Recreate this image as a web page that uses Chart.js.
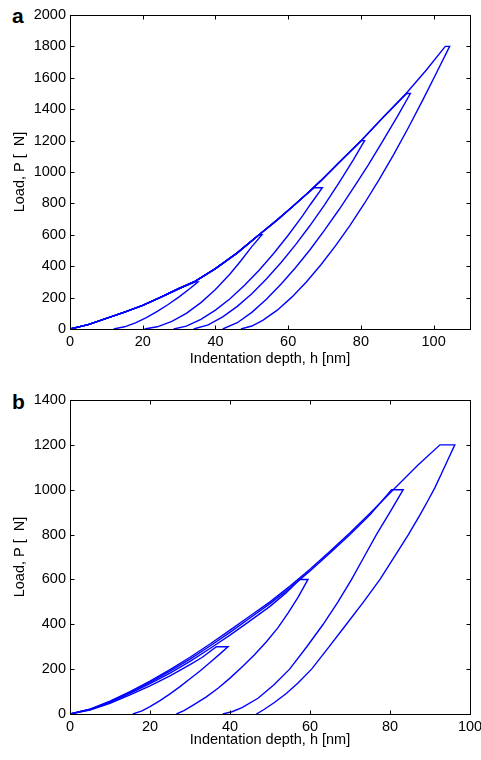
<!DOCTYPE html>
<html>
<head>
<meta charset="utf-8">
<script src="https://cdn.jsdelivr.net/npm/chart.js@4.4.1/dist/chart.umd.min.js"></script>
<style>
	body { margin: 0; background: #fff; width: 481px; height: 760px; overflow: hidden; position: relative; }
	canvas { position: absolute; left: 0; }
	.panel { position: absolute; left: 12px; font: bold 21px 'Liberation Sans', Arial, sans-serif; line-height: 21px; color: #000; }
</style>
</head>
<body>
<div class="panel" style="top:5px;">a</div>
<canvas id="chartA" width="481" height="372" style="top:0;"></canvas>
<div class="panel" style="top:391px;">b</div>
<canvas id="chartB" width="481" height="372" style="top:385px;"></canvas>
<script>
// ---- Panel a: one loading branch shared by all six tests
var aLoadH = [0, 5, 10, 15, 20, 25, 30, 34.5, 40, 46, 52, 57, 61, 65, 69, 74, 80.5, 86, 92.6, 98, 103.2];
var aLoadP = [0, 28, 68, 108, 150, 203, 258, 305, 385, 485, 600, 695, 775, 858, 945, 1060, 1210, 1345, 1505, 1650, 1800];
var aPeakH = [34.5, 52, 67.2, 80.2, 92.6, 103.2];
var aPeakP = [300, 600, 900, 1200, 1500, 1800];
// unloading branches [h, P], start at end of hold
var aUn300 = [[35.2, 300], [33, 258], [30, 205], [27, 156], [24, 112], [21, 72], [18, 39], [15, 14], [12, 0]];
var aUn600 = [[52.8, 600], [50, 525], [47, 435], [44, 350], [40, 252], [36, 168], [32, 100], [28, 48], [24, 14], [20.5, 0]];
var aUn900 = [[69.4, 900], [66, 790], [64, 722], [60, 597], [56, 481], [52, 374], [48, 278], [44, 193], [40, 120], [36, 61], [32, 18], [28.5, 0]];
var aUn1200 = [[81, 1200], [78, 1080], [74, 932], [70, 791], [66, 659], [62, 536], [58, 422], [54, 318], [50, 225], [46, 144], [42, 77], [38, 26], [34, 0]];
var aUn1500 = [[93.6, 1500], [90, 1353], [86, 1197], [82, 1044], [78, 900], [74, 761], [70, 630], [66, 505], [62, 390], [58, 285], [54, 189], [50, 106], [46, 40], [42, 0]];
var aUn1800 = [[104.4, 1800], [101, 1642], [97, 1458], [93, 1280], [89, 1111], [85, 952], [81, 801], [77, 660], [73, 529], [69, 409], [65, 299], [61, 203], [57, 120], [53, 55], [50, 19], [47, 0]];
var aUnload = [aUn300, aUn600, aUn900, aUn1200, aUn1500, aUn1800];

// ---- Panel b: four tests, each with its own loading branch [h, P]
var bLoad300 = [[0, 0], [5, 18], [10, 48], [15, 85], [20, 125], [25, 170], [30, 220], [33, 252], [36.6, 300]];
var bLoad600 = [[0, 0], [5, 20], [10, 52], [15, 92], [20, 135], [25, 182], [30, 235], [35, 292], [40, 352], [45, 415], [50, 480], [54, 540], [57.4, 600]];
var bLoad1000 = [[0, 0], [5, 21], [10, 55], [15, 96], [20, 141], [25, 191], [30, 245], [35, 303], [40, 364], [45, 428], [50, 492], [55, 562], [60, 638], [65, 718], [70, 800], [75, 888], [80.4, 1000]];
var bLoad1200 = [[0, 0], [5, 22], [10, 57], [15, 100], [20, 147], [25, 198], [30, 253], [35, 312], [40, 374], [45, 437], [50, 500], [55, 570], [60, 645], [65, 725], [70, 808], [75, 895], [80, 985], [82.5, 1030], [87, 1110], [92.5, 1200]];
var bUn300 = [[39.5, 300], [37.5, 268], [35, 230], [32.5, 192], [30, 157], [27.5, 122], [25, 90], [22.5, 60], [20, 33], [18, 14], [15.7, 0]];
var bUn600 = [[59.5, 600], [57, 520], [54.5, 450], [52, 385], [49, 320], [46, 262], [43, 210], [40, 160], [37, 115], [34, 75], [31, 42], [28.5, 15], [26.6, 0]];
var bUn1000 = [[83.3, 1000], [80, 900], [76.6, 800], [73.5, 700], [70.4, 600], [67, 500], [63.3, 400], [59.2, 300], [54.9, 200], [51, 130], [47, 70], [43, 28], [40.5, 10], [38.2, 0]];
var bUn1200 = [[96.2, 1200], [94.5, 1135], [93, 1077], [91.2, 1008], [89.5, 952], [87.5, 888], [84.6, 800], [81, 698], [77.5, 600], [73.3, 498], [69.1, 400], [64.7, 298], [60.4, 200], [57, 138], [54, 90], [51, 50], [48.5, 20], [46.6, 0]];
var bLoad = [bLoad300, bLoad600, bLoad1000, bLoad1200];
var bUnload = [bUn300, bUn600, bUn1000, bUn1200];

var FONT = "'Liberation Sans', Arial, Helvetica, sans-serif";
var BLUE = '#0000ff';

function toPoints(pairs) {
	return pairs.map(function (p) { return {x: p[0], y: p[1]}; });
}

function lineSet(points) {
	return {data: points, showLine: true, fill: false, borderColor: BLUE, borderWidth: 1.4, pointRadius: 0, tension: 0};
}

// MATLAB style box with inward ticks on all four sides
var boxTicks = {
	id: 'boxTicks',
	afterDraw: function (chart) {
		var ctx = chart.ctx, a = chart.chartArea, xs = chart.scales.x, ys = chart.scales.y;
		var l = Math.round(a.left) + 0.5, r = Math.round(a.right) + 0.5;
		var t = Math.round(a.top) + 0.5, b = Math.round(a.bottom) + 0.5;
		ctx.save();
		ctx.strokeStyle = '#000';
		ctx.lineWidth = 1;
		ctx.beginPath();
		xs.ticks.forEach(function (tk) {
			var px = Math.round(xs.getPixelForValue(tk.value)) + 0.5;
			ctx.moveTo(px, b); ctx.lineTo(px, b - 4);
			ctx.moveTo(px, t); ctx.lineTo(px, t + 4);
		});
		ys.ticks.forEach(function (tk) {
			var py = Math.round(ys.getPixelForValue(tk.value)) + 0.5;
			ctx.moveTo(l, py); ctx.lineTo(l + 4, py);
			ctx.moveTo(r, py); ctx.lineTo(r - 4, py);
		});
		ctx.stroke();
		ctx.strokeRect(l, t, r - l, b - t);
		ctx.restore();
	}
};

function panelOptions(xMax, yMax, xTitlePad) {
	var tickFont = {family: FONT, size: 14.5};
	return {
		responsive: false,
		animation: false,
		devicePixelRatio: 1,
		layout: {padding: {top: 15, right: 11, left: 0, bottom: 0}},
		plugins: {legend: {display: false}, tooltip: {enabled: false}},
		scales: {
			x: {
				type: 'linear', min: 0, max: xMax,
				grid: {display: false, drawTicks: false},
				border: {display: false},
				ticks: {stepSize: 20, includeBounds: false, autoSkip: false, maxRotation: 0, padding: 4, color: '#000', font: tickFont,
					callback: function (v) { return String(v); }},
				title: {display: true, text: 'Indentation depth, h [nm]', color: '#000', font: tickFont, padding: {top: 0, bottom: xTitlePad}},
				afterFit: function (s) { s.height = 43; s.paddingLeft = 0; s.paddingRight = 0; }
			},
			y: {
				type: 'linear', min: 0, max: yMax,
				grid: {display: false, drawTicks: false},
				border: {display: false},
				ticks: {stepSize: 200, includeBounds: false, autoSkip: false, padding: 4, color: '#000', font: tickFont,
					callback: function (v) { return String(v); }},
				title: {display: true, text: 'Load, P [  N]', color: '#000', font: tickFont, padding: {top: 11.3, bottom: 0}},
				afterFit: function (s) { s.width = 70; s.paddingTop = 0; s.paddingBottom = 0; }
			}
		}
	};
}

// Panel a datasets: shared loading cut at each peak, then the unloading branch
var aSets = [];
for (var i = 0; i < aPeakP.length; i++) {
	var pts = [];
	for (var j = 0; j < aLoadH.length; j++) {
		if (aLoadH[j] < aPeakH[i]) { pts.push({x: aLoadH[j], y: aLoadP[j]}); }
	}
	pts.push({x: aPeakH[i], y: aPeakP[i]});
	aSets.push(lineSet(pts.concat(toPoints(aUnload[i]))));
}

var bSets = [];
for (var k = 0; k < bLoad.length; k++) {
	bSets.push(lineSet(toPoints(bLoad[k]).concat(toPoints(bUnload[k]))));
}

new Chart(document.getElementById('chartA'), {
	type: 'scatter',
	data: {datasets: aSets},
	options: panelOptions(110, 2000, 4.3),
	plugins: [boxTicks]
});

new Chart(document.getElementById('chartB'), {
	type: 'scatter',
	data: {datasets: bSets},
	options: panelOptions(100, 1400, 8.3),
	plugins: [boxTicks]
});
</script>
</body>
</html>
